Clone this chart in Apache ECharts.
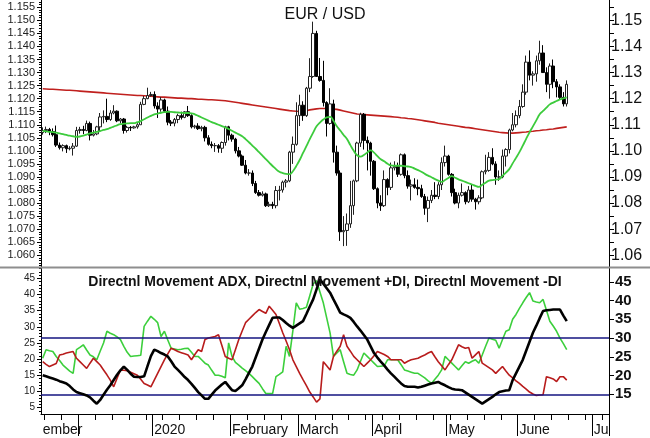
<!DOCTYPE html>
<html><head><meta charset="utf-8">
<script src="https://cdn.jsdelivr.net/npm/echarts@6/dist/echarts.min.js"></script>
<style>html,body{margin:0;padding:0;background:#fff}#c{width:650px;height:438px}</style>
</head><body><div id="c"></div>
<script>
// ---------------- data ----------------
const firstDate = [2019, 10, 18];   // first bar: 18 Nov 2019 (weekday bars)
const slotCount = 168;              // bars + empty space to the right

const opens = [1.1070,1.1078,1.1082,1.1074,1.1062,1.1022,1.1012,1.1020,1.1008,1.1010,
1.1018,1.1078,1.1082,1.1078,1.1105,1.1060,1.1065,1.1092,1.1130,1.1132,
1.1120,1.1145,1.1152,1.1115,1.1122,1.1078,1.1090,1.1088,1.1092,1.1100,
1.1178,1.1200,1.1212,1.1216,1.1172,1.1160,1.1195,1.1152,1.1110,1.1106,
1.1120,1.1135,1.1128,1.1150,1.1135,1.1092,1.1095,1.1085,1.1090,1.1050,
1.1025,1.1020,1.1020,1.1010,1.1032,1.1092,1.1060,1.1045,1.1000,1.0980,
1.0945,1.0915,1.0915,1.0875,1.0840,1.0830,1.0835,1.0790,1.0795,1.0790,
1.0848,1.0850,1.0880,1.0885,1.0995,1.1025,1.1135,1.1175,1.1135,1.1240,
1.1285,1.1450,1.1285,1.1270,1.1185,1.1105,1.1180,1.0995,1.0915,1.0690,
1.0695,1.0720,1.0790,1.0885,1.1030,1.1140,1.1040,1.1030,1.0960,1.0855,
1.0800,1.0790,1.0890,1.0860,1.0935,1.0940,1.0910,1.0985,1.0905,1.0865,
1.0870,1.0860,1.0855,1.0825,1.0780,1.0810,1.0830,1.0825,1.0870,1.0955,
1.0980,1.0910,1.0840,1.0800,1.0830,1.0840,1.0805,1.0850,1.0815,1.0805,
1.0820,1.0920,1.0925,1.0975,1.0950,1.0900,1.0900,1.0980,1.1005,1.1080,
1.1100,1.1135,1.1170,1.1225,1.1340,1.1290,1.1295,1.1345,1.1375,1.1300,
1.1255,1.1325,1.1265,1.1245,1.1205,1.1180];
const closes = [1.1078,1.1082,1.1074,1.1062,1.1022,1.1012,1.1020,1.1008,1.1010,1.1018,
1.1078,1.1082,1.1078,1.1105,1.1060,1.1065,1.1092,1.1130,1.1132,1.1120,
1.1145,1.1152,1.1115,1.1122,1.1078,1.1090,1.1088,1.1092,1.1100,1.1178,
1.1200,1.1212,1.1216,1.1172,1.1160,1.1195,1.1152,1.1110,1.1106,1.1120,
1.1135,1.1128,1.1150,1.1135,1.1092,1.1095,1.1085,1.1090,1.1050,1.1025,
1.1020,1.1020,1.1010,1.1032,1.1092,1.1060,1.1045,1.1000,1.0980,1.0945,
1.0915,1.0915,1.0875,1.0840,1.0830,1.0835,1.0790,1.0795,1.0790,1.0848,
1.0850,1.0880,1.0885,1.0995,1.1025,1.1135,1.1175,1.1135,1.1240,1.1285,
1.1450,1.1285,1.1270,1.1185,1.1105,1.1180,1.0995,1.0915,1.0690,1.0695,
1.0720,1.0790,1.0885,1.1030,1.1140,1.1040,1.1030,1.0960,1.0855,1.0800,
1.0790,1.0890,1.0860,1.0935,1.0940,1.0910,1.0985,1.0905,1.0865,1.0870,
1.0860,1.0855,1.0825,1.0780,1.0810,1.0830,1.0825,1.0870,1.0955,1.0980,
1.0910,1.0840,1.0800,1.0830,1.0840,1.0805,1.0850,1.0815,1.0805,1.0820,
1.0920,1.0925,1.0975,1.0950,1.0900,1.0900,1.0980,1.1005,1.1080,1.1100,
1.1135,1.1170,1.1225,1.1340,1.1290,1.1295,1.1345,1.1375,1.1300,1.1255,
1.1325,1.1265,1.1245,1.1205,1.1180,1.1255];
const highs = [1.1090,1.1093,1.1088,1.1086,1.1097,1.1032,1.1025,1.1024,1.1018,1.1030,
1.1092,1.1092,1.1096,1.1116,1.1112,1.1080,1.1096,1.1145,1.1155,1.1200,
1.1156,1.1175,1.1155,1.1126,1.1126,1.1096,1.1095,1.1096,1.1106,1.1188,
1.1210,1.1242,1.1226,1.1228,1.1186,1.1206,1.1200,1.1170,1.1118,1.1126,
1.1142,1.1150,1.1152,1.1172,1.1140,1.1100,1.1106,1.1096,1.1096,1.1060,
1.1036,1.1030,1.1026,1.1036,1.1096,1.1096,1.1066,1.1050,1.1015,1.0986,
1.0965,1.0930,1.0925,1.0885,1.0850,1.0845,1.0840,1.0805,1.0805,1.0865,
1.0866,1.0886,1.0892,1.1000,1.1055,1.1186,1.1215,1.1190,1.1245,1.1355,
1.1495,1.1460,1.1356,1.1345,1.1190,1.1240,1.1196,1.1020,1.0925,1.0750,
1.0760,1.0885,1.0890,1.1035,1.1146,1.1145,1.1055,1.1035,1.0965,1.0860,
1.0830,1.0925,1.0895,1.0955,1.0960,1.0955,1.0990,1.0990,1.0925,1.0890,
1.0895,1.0890,1.0870,1.0835,1.0825,1.0850,1.0880,1.0880,1.0975,1.1020,
1.0985,1.0915,1.0855,1.0840,1.0875,1.0845,1.0865,1.0870,1.0820,1.0830,
1.0925,1.0985,1.0995,1.1010,1.0960,1.0925,1.1005,1.1010,1.1085,1.1145,
1.1155,1.1195,1.1255,1.1365,1.1385,1.1305,1.1365,1.1422,1.1405,1.1320,
1.1335,1.1350,1.1275,1.1255,1.1225,1.1270];
const lows = [1.1062,1.1068,1.1060,1.1055,1.1015,1.1005,1.0998,1.0992,1.1002,1.0982,
1.1015,1.1066,1.1064,1.1075,1.1040,1.1055,1.1060,1.1075,1.1105,1.1110,
1.1115,1.1140,1.1110,1.1105,1.1066,1.1070,1.1076,1.1085,1.1085,1.1100,
1.1175,1.1198,1.1208,1.1162,1.1126,1.1150,1.1145,1.1098,1.1095,1.1094,
1.1106,1.1120,1.1125,1.1130,1.1086,1.1085,1.1080,1.1075,1.1036,1.1020,
1.1010,1.0996,1.0993,1.0992,1.1020,1.1040,1.1035,1.0990,1.0975,1.0942,
1.0910,1.0905,1.0865,1.0835,1.0825,1.0825,1.0785,1.0785,1.0778,1.0780,
1.0810,1.0840,1.0860,1.0880,1.0950,1.1020,1.1095,1.1115,1.1130,1.1225,
1.1280,1.1285,1.1265,1.1170,1.1055,1.1100,1.0955,1.0905,1.0655,1.0635,
1.0636,1.0705,1.0755,1.0880,1.1015,1.1005,1.0925,1.0905,1.0850,1.0780,
1.0770,1.0785,1.0830,1.0850,1.0925,1.0900,1.0905,1.0895,1.0855,1.0810,
1.0855,1.0830,1.0820,1.0755,1.0727,1.0800,1.0815,1.0815,1.0850,1.0940,
1.0905,1.0825,1.0795,1.0780,1.0825,1.0795,1.0800,1.0805,1.0775,1.0795,
1.0815,1.0910,1.0920,1.0945,1.0870,1.0885,1.0895,1.0940,1.0990,1.1075,
1.1090,1.1125,1.1165,1.1215,1.1270,1.1250,1.1265,1.1330,1.1325,1.1225,
1.1200,1.1240,1.1205,1.1195,1.1170,1.1170];

const maFast = [1.1076,1.1075,1.1073,1.1072,1.1070,1.1067,1.1064,1.1061,1.1058,1.1056,
1.1054,1.1055,1.1058,1.1062,1.1067,1.1070,1.1073,1.1076,1.1080,1.1083,
1.1088,1.1093,1.1098,1.1102,1.1104,1.1105,1.1106,1.1106,1.1110,1.1114,
1.1121,1.1128,1.1134,1.1140,1.1143,1.1146,1.1148,1.1149,1.1149,1.1148,
1.1147,1.1146,1.1145,1.1145,1.1144,1.1140,1.1134,1.1128,1.1122,1.1116,
1.1110,1.1105,1.1100,1.1095,1.1090,1.1084,1.1077,1.1070,1.1063,1.1056,
1.1045,1.1033,1.1020,1.1008,1.0995,1.0982,1.0968,1.0955,1.0942,1.0930,
1.0920,1.0915,1.0912,1.0911,1.0922,1.0942,1.0965,1.0992,1.1018,1.1045,
1.1070,1.1094,1.1108,1.1120,1.1128,1.1130,1.1115,1.1094,1.1078,1.1061,
1.1045,1.1022,1.1000,1.0983,1.0978,1.0984,1.0994,1.1002,1.0993,1.0980,
1.0968,1.0960,1.0951,1.0944,1.0943,1.0943,1.0943,1.0941,1.0940,1.0938,
1.0932,1.0926,1.0920,1.0912,1.0905,1.0899,1.0892,1.0886,1.0881,1.0888,
1.0896,1.0903,1.0897,1.0891,1.0886,1.0881,1.0876,1.0871,1.0866,1.0862,
1.0870,1.0878,1.0886,1.0888,1.0890,1.0892,1.0904,1.0917,1.0930,1.0952,
1.0973,1.0995,1.1020,1.1046,1.1071,1.1094,1.1117,1.1140,1.1153,1.1166,
1.1178,1.1185,1.1191,1.1197,1.1201,1.1205];
const maSlow = [1.1238,1.1237,1.1236,1.1236,1.1235,1.1234,1.1233,1.1232,1.1232,1.1231,
1.1230,1.1229,1.1228,1.1227,1.1226,1.1225,1.1224,1.1223,1.1222,1.1221,
1.1220,1.1219,1.1218,1.1217,1.1216,1.1215,1.1214,1.1213,1.1212,1.1212,
1.1211,1.1210,1.1209,1.1208,1.1207,1.1206,1.1206,1.1205,1.1204,1.1203,
1.1202,1.1202,1.1201,1.1200,1.1200,1.1199,1.1198,1.1198,1.1197,1.1196,
1.1196,1.1195,1.1194,1.1193,1.1192,1.1190,1.1188,1.1186,1.1184,1.1182,
1.1180,1.1178,1.1176,1.1174,1.1172,1.1170,1.1168,1.1166,1.1164,1.1162,
1.1160,1.1158,1.1156,1.1154,1.1153,1.1152,1.1151,1.1152,1.1154,1.1157,
1.1159,1.1161,1.1162,1.1162,1.1162,1.1161,1.1160,1.1159,1.1156,1.1153,
1.1150,1.1147,1.1144,1.1141,1.1140,1.1139,1.1138,1.1137,1.1136,1.1135,
1.1134,1.1133,1.1132,1.1131,1.1130,1.1129,1.1127,1.1126,1.1124,1.1123,
1.1121,1.1119,1.1117,1.1115,1.1113,1.1111,1.1109,1.1106,1.1104,1.1102,
1.1100,1.1098,1.1096,1.1094,1.1092,1.1090,1.1089,1.1087,1.1085,1.1083,
1.1081,1.1079,1.1077,1.1075,1.1073,1.1071,1.1070,1.1069,1.1068,1.1068,
1.1069,1.1070,1.1071,1.1072,1.1074,1.1075,1.1077,1.1078,1.1080,1.1081,
1.1083,1.1084,1.1086,1.1088,1.1090,1.1092];

const adx = [20.1,19.8,19.5,19.2,18.9,18.5,18.2,17.9,17.2,16.3,
15.6,15.3,15.0,14.7,14.2,13.3,12.5,13.5,14.9,16.2,
17.4,18.8,20.2,21.4,22.4,21.5,20.5,19.7,19.6,19.6,
19.8,22.5,25.2,26.9,26.5,26.0,25.6,25.1,23.8,22.4,
21.5,20.6,19.6,18.8,17.8,16.7,15.6,14.7,13.8,13.8,
14.9,16.0,16.8,17.6,18.3,17.2,16.1,15.9,16.6,17.4,
19.0,20.7,22.4,24.8,27.2,29.6,31.6,33.5,35.4,35.5,
35.5,34.8,34.0,33.3,32.7,33.3,33.9,34.5,36.4,38.4,
40.3,43.0,45.7,44.5,43.3,42.1,40.3,38.6,36.8,36.3,
35.9,35.4,34.3,33.1,32.0,30.8,29.6,27.8,26.0,24.8,
23.7,22.7,21.6,20.6,19.7,18.8,17.9,17.2,17.0,17.0,
17.0,16.8,17.0,17.3,17.6,17.9,18.1,18.3,17.8,17.4,
16.9,16.5,16.3,16.2,16.1,15.5,14.9,14.3,13.7,13.1,
12.5,13.1,13.7,14.3,15.0,15.6,15.8,16.0,16.1,18.8,
20.6,22.4,24.2,26.6,29.0,31.4,33.3,35.3,37.2,37.4,
37.5,37.6,37.6,37.6,36.0,34.5];
const plusDI = [24.6,26.9,26.6,26.4,25.1,24.0,22.8,22.0,21.2,20.6,
26.9,27.5,28.2,26.8,25.5,25.0,24.2,26.5,28.7,31.8,
31.3,30.9,30.3,29.6,27.8,26.2,25.1,25.2,25.3,25.4,
33.1,34.5,35.8,35.0,34.1,30.4,31.8,29.5,27.3,27.1,
26.9,27.0,27.2,27.3,26.2,25.1,25.1,24.2,23.3,22.8,
21.4,20.1,20.1,19.8,19.4,28.7,25.1,23.5,22.8,22.0,
21.3,20.6,19.7,18.8,17.9,16.5,15.2,15.2,15.2,19.7,
20.3,21.0,27.8,25.1,32.0,39.4,37.7,37.9,38.2,41.3,
44.4,45.3,42.3,39.4,35.4,31.4,25.1,26.0,26.9,23.7,
20.6,20.3,20.1,21.5,23.8,26.0,25.1,24.2,23.3,22.4,
22.5,22.6,24.2,24.2,24.2,24.2,22.9,21.5,21.2,20.9,
20.6,20.6,20.0,19.4,18.6,17.9,19.0,20.1,21.5,25.1,
24.2,23.3,22.4,21.5,22.6,23.7,23.3,23.8,24.2,23.3,
25.5,27.8,30.0,29.7,29.4,27.3,29.6,31.8,32.2,35.0,
36.3,37.9,39.4,40.8,42.1,39.9,39.6,39.4,40.3,37.4,
34.5,33.2,31.8,30.0,28.5,26.9];
const minusDI = [23.7,23.0,22.4,22.8,23.2,25.5,25.7,26.0,26.2,26.4,
24.6,23.7,22.8,21.9,23.3,24.6,23.7,22.8,21.5,20.2,
18.8,17.0,19.3,21.5,21.4,21.3,20.9,20.5,20.1,19.0,
17.9,17.5,17.0,18.8,20.6,22.4,24.2,25.8,27.3,26.9,
26.4,26.1,25.8,25.5,24.2,25.6,26.9,26.4,29.6,30.0,
30.2,30.4,30.9,28.0,25.1,24.6,24.2,26.9,29.6,31.9,
34.1,35.0,35.9,36.8,37.6,37.1,36.6,38.5,37.4,36.3,
33.9,31.4,29.2,26.9,24.2,22.4,20.6,18.9,17.3,15.6,
14.3,12.9,13.8,23.7,22.6,21.5,25.1,26.5,27.8,30.9,
27.8,26.5,25.1,24.2,23.3,22.4,23.3,24.2,25.3,26.4,
26.0,25.6,25.1,24.2,24.2,24.2,24.2,23.3,23.8,24.2,
24.4,24.6,25.1,25.5,26.0,26.4,25.0,23.7,22.6,21.5,
22.9,24.2,26.2,28.2,27.7,27.3,27.5,24.6,25.5,26.4,
23.3,22.7,22.1,21.5,20.6,21.5,22.4,21.2,20.1,19.4,
18.6,17.9,17.1,16.4,15.6,15.1,14.7,14.8,14.9,19.7,
19.4,19.1,18.4,19.7,19.7,18.8];
const dmiLevels = [30, 15];

const priceLeftTicks  = [1.060,1.065,1.070,1.075,1.080,1.085,1.090,1.095,1.100,1.105,1.110,1.115,1.120,1.125,1.130,1.135,1.140,1.145,1.150,1.155];
const priceRightTicks = [1.06,1.07,1.08,1.09,1.10,1.11,1.12,1.13,1.14,1.15];
const dmiLeftTicks  = [5,10,15,20,25,30,35,40,45];
const dmiRightTicks = [15,20,25,30,35,40,45];
const monthLabels = ['ember','2020','February','March','April','May','June','Ju'];

// ---------------- build ----------------
const FONT = 'Liberation Sans, Arial, sans-serif';
const cats = [];
{
  const d = new Date(Date.UTC(firstDate[0], firstDate[1], firstDate[2]));
  while (cats.length < slotCount) {
    const wd = d.getUTCDay();
    if (wd > 0 && wd < 6) cats.push(new Date(d.getTime()));
    d.setUTCDate(d.getUTCDate() + 1);
  }
}
const catNames = cats.map(d => d.toISOString().slice(0, 10));
const weekTicks = new Set();
const monthTicks = new Set();
for (let k = 1; k < cats.length; k++) {
  if (cats[k - 1].getUTCDay() === 1) weekTicks.add(k);
  if (cats[k].getUTCMonth() !== cats[k - 1].getUTCMonth()) monthTicks.add(k + 1);
}
const labelMap = new Map();
labelMap.set(0, monthLabels[0]);
[...monthTicks].filter(k => k > 20).forEach((k, j) => { if (j + 1 < monthLabels.length) labelMap.set(k, monthLabels[j + 1]); });

function steps(a, b, s, dec) { const out = []; const n = Math.round((b - a) / s); for (let i = 0; i <= n; i++) out.push(+(a + i * s).toFixed(dec)); return out; }

const candles = opens.map((o, i) => [o, closes[i], lows[i], highs[i]]);

const P_MIN = 1.0555, P_MAX = 1.1578;
const D_MIN = 9.75, D_MAX = 48.68;
const DL_MIN = 3.05, DL_MAX = 48.18;

const xBase = { type: 'category', data: catNames, boundaryGap: true, splitLine: { show: false } };
const black = { color: '#000', width: 1 };

const option = {
  animation: false,
  backgroundColor: '#fff',
  textStyle: { fontFamily: FONT },
  title: [
    { text: 'EUR / USD', left: 'center', top: 2, textStyle: { fontFamily: FONT, fontSize: 16, fontWeight: 'normal', color: '#111' } },
    { text: 'Directnl Movement ADX, Directnl Movement +DI, Directnl Movement -DI', left: 'center', top: 270,
      textStyle: { fontFamily: FONT, fontSize: 14, fontWeight: 'bold', color: '#111' } }
  ],
  grid: [
    { left: 41, right: 41, top: 0, height: 267 },
    { left: 41, right: 41, top: 268, height: 146 }
  ],
  xAxis: [
    Object.assign({}, xBase, { gridIndex: 0, position: 'bottom', show: false }),
    Object.assign({}, xBase, { gridIndex: 1, position: 'bottom', axisLine: { show: true, lineStyle: black },
      axisTick: { show: true, interval: (i) => weekTicks.has(i), length: 6, lineStyle: black }, axisLabel: { show: false } }),
    Object.assign({}, xBase, { gridIndex: 1, position: 'bottom', offset: 0, axisLine: { show: false },
      axisTick: { show: true, interval: (i) => monthTicks.has(i), length: 22, lineStyle: black },
      axisLabel: { show: true, interval: (i) => labelMap.has(i), formatter: (v, i) => labelMap.get(i) || '', align: 'left', margin: 9,
        fontFamily: FONT, fontSize: 14, color: '#111' } })
  ],
  yAxis: [
    { type: 'value', gridIndex: 0, position: 'left', min: P_MIN, max: P_MAX, splitLine: { show: false },
      axisLine: { show: true, lineStyle: black },
      axisTick: { show: true, length: 4, lineStyle: black, customValues: priceLeftTicks },
      axisLabel: { customValues: priceLeftTicks, formatter: v => v.toFixed(3), fontFamily: FONT, fontSize: 11, color: '#222', margin: 6 } },
    { type: 'value', gridIndex: 0, position: 'left', offset: 0, min: P_MIN, max: P_MAX, splitLine: { show: false },
      axisLine: { show: false }, axisLabel: { show: false },
      axisTick: { show: true, length: 2, lineStyle: black, customValues: steps(1.056, 1.157, 0.001, 3) } },
    { type: 'value', gridIndex: 0, position: 'right', min: P_MIN, max: P_MAX, splitLine: { show: false },
      axisLine: { show: true, lineStyle: black },
      axisTick: { show: true, length: 5, lineStyle: black, customValues: steps(1.060, 1.155, 0.005, 3) },
      axisLabel: { customValues: priceRightTicks, formatter: v => v.toFixed(2), fontFamily: FONT, fontSize: 16, color: '#111', margin: 2 } },
    { type: 'value', gridIndex: 1, position: 'right', min: D_MIN, max: D_MAX, splitLine: { show: false },
      axisLine: { show: true, lineStyle: black },
      axisTick: { show: true, length: 5, lineStyle: black, customValues: dmiRightTicks },
      axisLabel: { customValues: dmiRightTicks, fontFamily: FONT, fontSize: 15, fontWeight: 'bold', color: '#111', margin: 6 } },
    { type: 'value', gridIndex: 1, position: 'left', min: DL_MIN, max: DL_MAX, splitLine: { show: false },
      axisLine: { show: true, lineStyle: black },
      axisTick: { show: true, length: 4, lineStyle: black, customValues: dmiLeftTicks },
      axisLabel: { customValues: dmiLeftTicks, fontFamily: FONT, fontSize: 10, color: '#222', margin: 6 } },
    { type: 'value', gridIndex: 1, position: 'left', offset: 0, min: DL_MIN, max: DL_MAX, splitLine: { show: false },
      axisLine: { show: false }, axisLabel: { show: false },
      axisTick: { show: true, length: 2, lineStyle: black, customValues: steps(4, 48, 1, 0) } }
  ],
  series: [
    { type: 'line', name: 'MA200', xAxisIndex: 0, yAxisIndex: 0, data: maSlow, symbol: 'none',
      lineStyle: { color: '#c0201e', width: 1.6 }, z: 2 },
    { type: 'candlestick', name: 'EUR/USD', xAxisIndex: 0, yAxisIndex: 0, data: candles, barWidth: 3,
      itemStyle: { color: '#fff', color0: '#000', borderColor: '#222', borderColor0: '#000', borderWidth: 1 }, z: 3 },
    { type: 'line', name: 'MA', xAxisIndex: 0, yAxisIndex: 0, data: maFast, symbol: 'none', smooth: true,
      lineStyle: { color: '#3ccb3c', width: 1.8 }, z: 4 },
    { type: 'line', name: '+DI', xAxisIndex: 1, yAxisIndex: 3, data: plusDI, symbol: 'none',
      lineStyle: { color: '#3ccf3c', width: 1.6 }, z: 3,
      markLine: { silent: true, symbol: 'none', label: { show: false }, animation: false,
        lineStyle: { color: '#141480', width: 1.5, type: 'solid' },
        data: dmiLevels.map(v => ({ yAxis: v })) } },
    { type: 'line', name: '-DI', xAxisIndex: 1, yAxisIndex: 3, data: minusDI, symbol: 'none',
      lineStyle: { color: '#b81c1c', width: 1.6 }, z: 4 },
    { type: 'line', name: 'ADX', xAxisIndex: 1, yAxisIndex: 3, data: adx, symbol: 'none',
      lineStyle: { color: '#000', width: 2.6 }, z: 5 }
  ],
  graphic: [
    { type: 'line', shape: { x1: 0, y1: 267.5, x2: 650, y2: 267.5 }, style: { stroke: '#8e8e8e', lineWidth: 2 }, z: 10 }
  ]
};
const chart = echarts.init(document.getElementById('c'), null, { renderer: 'canvas' });
chart.setOption(option);
</script>
</body></html>
